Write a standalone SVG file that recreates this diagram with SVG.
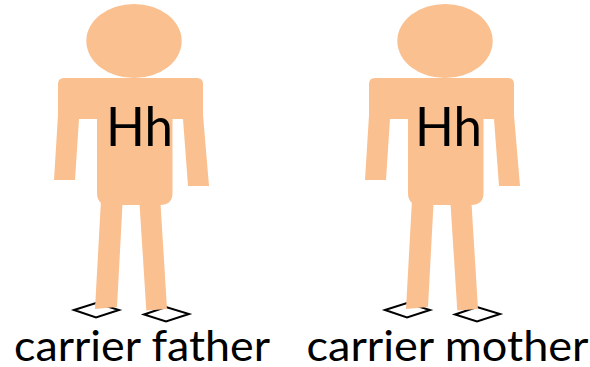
<svg xmlns="http://www.w3.org/2000/svg" xmlns:xlink="http://www.w3.org/1999/xlink" width="590" height="367" viewBox="0 0 590 367">
<style>
.skin{fill:#fac090}
.foot{fill:#fff;stroke:#000;stroke-width:2}
text{font-family:"Lato","Liberation Sans",sans-serif;fill:#000}
.gene{font-size:55px}
.cap{font-size:42px}
</style>
<defs>
<g id="person">
<polygon class="foot" points="74,310 96,303 119,310 96,317.5"/>
<polygon class="foot" points="144,314.5 166,307 189,314 166,321.5"/>
<polygon class="skin" points="101,200 122.7,200 117,307 95,309"/>
<polygon class="skin" points="139.3,200 160.3,200 167,309 146.3,310.5"/>
<ellipse class="skin" cx="134" cy="41" rx="47.7" ry="37"/>
<path class="skin" d="M64 78H197Q203 78 203 84V115L209 186H188L183 119H172.5V193Q172.5 205 160 205H109Q97 205 97 193V119H79L75 180H54L58 115V84Q58 78 64 78Z"/>
</g>
</defs>
<rect width="590" height="367" fill="#fff"/>
<g id="father">
<use xlink:href="#person" href="#person"/>
<text class="gene" x="106" y="146" textLength="67" lengthAdjust="spacingAndGlyphs">Hh</text>
<text class="cap" x="14" y="361" textLength="256" lengthAdjust="spacingAndGlyphs">carrier father</text>
</g>
<g id="mother">
<use xlink:href="#person" href="#person" x="311"/>
<text class="gene" x="415" y="146" textLength="67" lengthAdjust="spacingAndGlyphs">Hh</text>
<text class="cap" x="306.5" y="361" textLength="282" lengthAdjust="spacingAndGlyphs">carrier mother</text>
</g>
</svg>
